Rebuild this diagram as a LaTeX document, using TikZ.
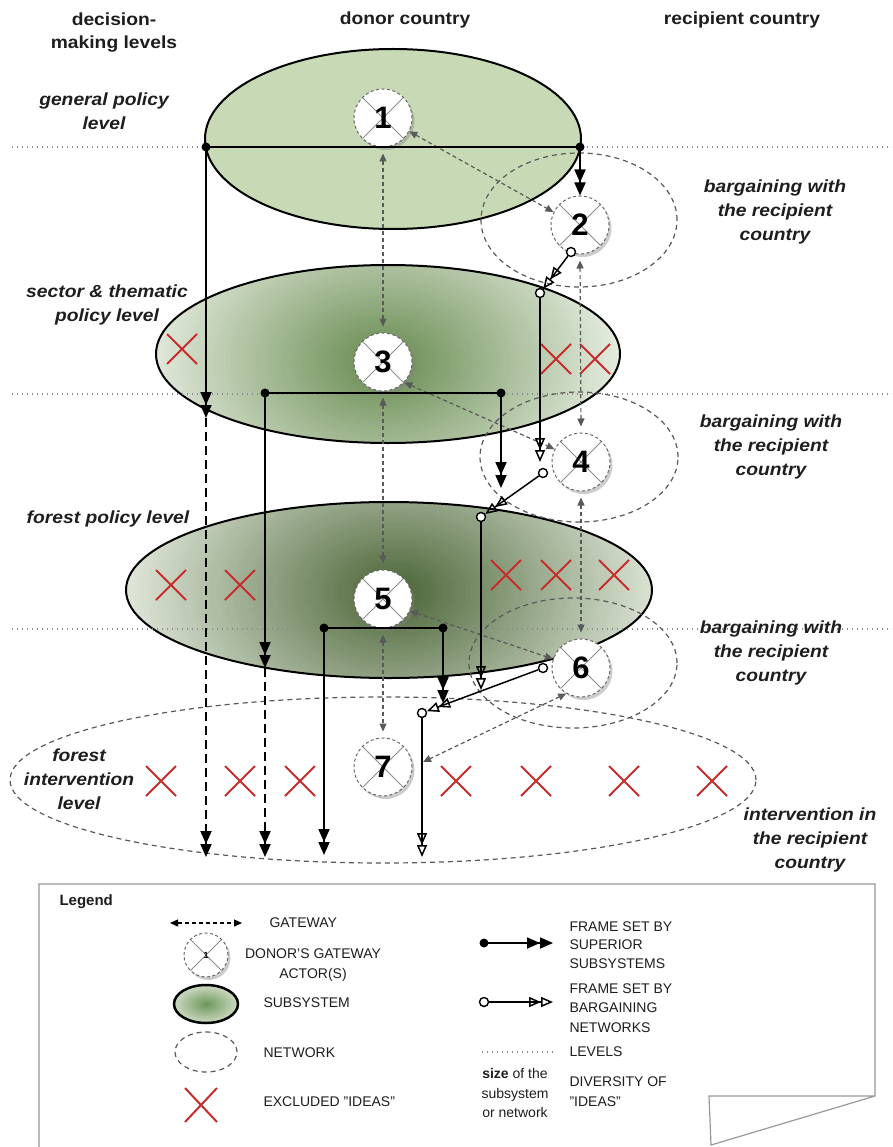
\documentclass[tikz,border=0pt]{standalone}
\usepackage{fontspec}
\setmainfont{Liberation Sans}
\newfontfamily\lblfont{Liberation Sans}[FakeStretch=1.1]
\usetikzlibrary{arrows.meta,shapes.geometric,shapes.misc,shadows}

\definecolor{subflat}{RGB}{199,218,181}
\definecolor{subAin}{RGB}{100,136,76}
\definecolor{subAout}{RGB}{238,243,233}
\definecolor{subBin}{RGB}{72,98,52}
\definecolor{subBout}{RGB}{232,238,226}
\definecolor{legin}{RGB}{110,150,90}
\definecolor{legout}{RGB}{205,218,195}
\definecolor{xred}{RGB}{200,45,45}
\definecolor{ink}{RGB}{30,30,30}

% elliptical colour gradient, relative to the node centre:
% offset x, offset y, x radius, y radius, inner, outer
\newcommand\radialfill[6]{%
  \fill[#6] (#1-#3,#2-#4) rectangle (#1+#3,#2+#4);
  \foreach \k in {60,59,...,1}{%
    \pgfmathtruncatemacro\p{100-100*\k/60}%
    \pgfmathsetmacro\rx{#3*(\k/60)}%
    \pgfmathsetmacro\ry{#4*(\k/60)}%
    \fill[#5!\p!#6] (#1,#2) ellipse [x radius=\rx, y radius=\ry];
  }%
}

\tikzset{
  hdr/.style={font=\lblfont\bfseries\fontsize{17.5}{23}\selectfont, text=ink, align=center},
  lvl/.style={font=\lblfont\bfseries\itshape\fontsize{17.5}{24}\selectfont, text=ink, align=center},
  leg/.style={font=\fontsize{14}{18.5}\selectfont, text=ink, align=left, anchor=west},
  sub/.style={ellipse, draw=black, line width=2pt, inner sep=0pt},
  netell/.style={ellipse, draw=black!65, line width=1.2pt, dash pattern=on 5pt off 4pt, inner sep=0pt},
  gw/.style={circle, minimum size=58pt, inner sep=0pt, fill=white, draw=black!60,
    dash pattern=on 3pt off 2.5pt, line width=1pt, text=black,
    font=\bfseries\fontsize{31}{31}\selectfont,
    drop shadow={opacity=0.4, shadow xshift=2.5pt, shadow yshift=-3pt},
    path picture={\draw[black!45, solid, line width=0.9pt]
      (path picture bounding box.north west) -- (path picture bounding box.south east)
      (path picture bounding box.north east) -- (path picture bounding box.south west);}},
  excl/.style={cross out, draw=xred, line width=2pt, minimum width=28pt, minimum height=28pt, inner sep=0pt},
  fdot/.style={circle, fill=black, inner sep=0pt, minimum size=9pt},
  odot/.style={circle, draw=black, fill=white, line width=1.4pt, inner sep=0pt, minimum size=9pt},
  sup/.style={line width=1.8pt, -{Triangle[length=13pt 0 0,width=11pt 0 0]Triangle[length=13pt 0 0,width=11pt 0 0]}},
  supdash/.style={sup, dash pattern=on 9pt off 5pt},
  barg/.style={line width=1.5pt, -{Triangle[open,length=12pt 0 0,width=10pt 0 0]Triangle[open,length=12pt 0 0,width=10pt 0 0]}},
  gate/.style={black!65, line width=1.2pt, dash pattern=on 4pt off 3pt,
    {Triangle[length=8pt 0 0,width=7pt 0 0]}-{Triangle[length=8pt 0 0,width=7pt 0 0]}},
  vgap/.style={shorten <=6pt, shorten >=6pt},
  lvline/.style={black!45, line width=1.4pt, dash pattern=on 1.4pt off 3.6pt},
  legframe/.style={draw=black!40, line width=1.2pt},
}

\begin{document}
\begin{tikzpicture}[x=1pt, y=-1pt]
\fill[white] (0,0) rectangle (892,1147);
\useasboundingbox (0,0) rectangle (892,1147);

% subsystems
\node[sub, fill=subflat, minimum width=376pt, minimum height=180pt] (sub1) at (393,139) {};
\node[sub, minimum width=464pt, minimum height=178pt,
  path picture={\radialfill{-5}{8}{255}{185}{subAin}{subAout}}] (sub2) at (388,354) {};
\node[sub, minimum width=526pt, minimum height=176pt,
  path picture={\radialfill{6}{2}{285}{200}{subBin}{subBout}}] (sub3) at (389,590) {};

% decision-making levels
\coordinate (lv1a) at (12,147);  \coordinate (lv1b) at (892,147);
\coordinate (lv2a) at (12,394);  \coordinate (lv2b) at (892,394);
\coordinate (lv3a) at (12,629);  \coordinate (lv3b) at (892,629);
\draw[lvline] (lv1a) -- (lv1b);
\draw[lvline] (lv2a) -- (lv2b);
\draw[lvline] (lv3a) -- (lv3b);

% bargaining networks
\node[netell, minimum width=196pt, minimum height=134pt] (net1) at (579,220) {};
\node[netell, minimum width=198pt, minimum height=130pt] (net2) at (579,457) {};
\node[netell, minimum width=208pt, minimum height=130pt] (net3) at (573,663) {};
\node[netell, minimum width=746pt, minimum height=166pt] (net4) at (383,780) {};

% excluded ideas
\node[excl] (xa1) at (182,349) {};
\node[excl] (xa2) at (556,359) {};
\node[excl] (xa3) at (595,359) {};
\node[excl] (xb1) at (171,585) {};
\node[excl] (xb2) at (240,585) {};
\node[excl] (xb3) at (506,575) {};
\node[excl] (xb4) at (556,575) {};
\node[excl] (xb5) at (614,575) {};
\node[excl] (xc1) at (161,781) {};
\node[excl] (xc2) at (240,781) {};
\node[excl] (xc3) at (300,781) {};
\node[excl] (xc4) at (456,781) {};
\node[excl] (xc5) at (536,781) {};
\node[excl] (xc6) at (624,781) {};
\node[excl] (xc7) at (712,781) {};

% gateway actors
\node[gw] (g1) at (383,118) {1};
\node[gw] (g2) at (580,225) {2};
\node[gw] (g3) at (383,362) {3};
\node[gw] (g4) at (581,462) {4};
\node[gw] (g5) at (383,599) {5};
\node[gw] (g6) at (581,668) {6};
\node[gw] (g7) at (383,767) {7};
\coordinate (g7r) at (423,762);

% gateways
\draw[gate] (g1.-27) -- (g2.154);
\draw[gate] (g3.-44) -- (g4.154);
\draw[gate] (g5.-24) -- (g6.162);
\draw[gate] (g6.-120) -- (g7r);
\draw[gate, vgap] (g1.south) -- (g3.north);
\draw[gate, vgap] (g3.south) -- (g5.north);
\draw[gate, vgap] (g5.south) -- (g7.north);
\draw[gate, vgap] (g2.south) -- (g4.north);
\draw[gate, vgap] (g4.south) -- (g6.north);

% frames set by superior subsystems
\node[fdot] (s1L) at (206,147) {};
\node[fdot] (s1R) at (580,147) {};
\node[fdot] (s2L) at (265,393) {};
\node[fdot] (s2R) at (501,393) {};
\node[fdot] (s3L) at (324,628) {};
\node[fdot] (s3R) at (443,628) {};
\coordinate (m1) at (206,418);  \coordinate (b1) at (206,857);
\coordinate (m2) at (265,668);  \coordinate (b2) at (265,857);
\coordinate (b3) at (324,855);
\coordinate (e2) at (501,488);
\coordinate (e3) at (443,703);

\draw[line width=1.8pt] (s1L.center) -- (s1R.center);
\draw[line width=1.8pt] (s2L.center) -- (s2R.center);
\draw[line width=1.8pt] (s3L.center) -- (s3R.center);
\draw[sup] (s1R.center) -- (g2.north);
\draw[sup] (s1L.center) -- (m1);
\draw[supdash] (m1) -- (b1);
\draw[sup] (s2L.center) -- (m2);
\draw[supdash] (m2) -- (b2);
\draw[sup] (s2R.center) -- (e2);
\draw[sup] (s3L.center) -- (b3);
\draw[sup] (s3R.center) -- (e3);

% frames set by bargaining networks
\node[odot] (o2a) at (571,252) {};
\node[odot] (o2c) at (540,293) {};
\node[odot] (o4a) at (543,473) {};
\node[odot] (o4c) at (481,517) {};
\node[odot] (o6a) at (543,668) {};
\node[odot] (o6c) at (422,713) {};
\coordinate (e4) at (540,462);
\coordinate (e5) at (481,690);
\coordinate (b4) at (422,857);
\draw[barg] (o2a) -- (o2c);
\draw[barg] (o2c) -- (e4);
\draw[barg] (o4a) -- (o4c);
\draw[barg] (o4c) -- (e5);
\draw[barg] (o6a) -- (o6c);
\draw[barg] (o6c) -- (b4);

% headings and level names
\node[hdr] (hdec) at (114,33) {decision-\\making levels};
\node[hdr] (hdon) at (405,20) {donor country};
\node[hdr] (hrec) at (742,20) {recipient country};
\node[lvl] (lvA) at (104,111) {general policy\\level};
\node[lvl] (lvB) at (107,305) {sector \& thematic\\policy level};
\node[lvl] (lvC) at (108,519) {forest policy level};
\node[lvl] (lvD) at (79,779) {forest\\intervention\\level};
\node[lvl] (bg1) at (775,212) {bargaining with\\the recipient\\country};
\node[lvl] (bg2) at (771,447) {bargaining with\\the recipient\\country};
\node[lvl] (bg3) at (771,653) {bargaining with\\the recipient\\country};
\node[lvl] (intv) at (810,840) {intervention in\\the recipient\\country};

% legend sheet with folded corner
\coordinate (lb1) at (39,1147);
\coordinate (lb2) at (39,884);
\coordinate (lb3) at (875,884);
\coordinate (lb4) at (875,1096);
\coordinate (lf1) at (709,1096);
\coordinate (lf2) at (711,1145);
\draw[legframe] (lb1) -- (lb2) -- (lb3) -- (lb4) -- (lf2) -- (lf1) -- (lb4);

\node[font=\bfseries\fontsize{15}{15}\selectfont, text=ink, anchor=west] (legt) at (56,902) {Legend};

\coordinate (lg1) at (170,923);
\coordinate (lg2) at (242,923);
\draw[gate, black] (lg1) -- (lg2);
\node[leg] (tg1) at (266,923) {GATEWAY};

\node[gw, minimum size=44pt, font=\bfseries\fontsize{9}{9}\selectfont] (lga) at (206,955) {1};
\node[leg, anchor=center, align=center, font=\fontsize{14}{20}\selectfont] (tg2) at (313,965) {DONOR'S GATEWAY\\ACTOR(S)};

\node[ellipse, draw=black, line width=2.5pt, minimum width=64pt, minimum height=38pt,
  inner sep=0pt, inner color=legin, outer color=legout] (lsub) at (206,1004) {};
\node[leg] (tg3) at (260,1003) {SUBSYSTEM};

\node[netell, minimum width=62pt, minimum height=40pt] (lnet) at (206,1052) {};
\node[leg] (tg4) at (260,1053) {NETWORK};

\node[excl, minimum width=30pt, minimum height=32pt] (lx) at (201,1105) {};
\node[leg] (tg5) at (260,1102) {EXCLUDED "IDEAS"};

\node[fdot] (lsd) at (484,943) {};
\coordinate (lse) at (553,943);
\draw[sup] (lsd.center) -- (lse);
\node[leg] (tg6) at (566,945) {FRAME SET BY\\SUPERIOR\\SUBSYSTEMS};

\node[odot] (lod) at (484,1002) {};
\coordinate (loe) at (553,1002);
\draw[barg] (lod) -- (loe);
\node[leg, font=\fontsize{14}{19.5}\selectfont] (tg7) at (566,1008) {FRAME SET BY\\BARGAINING\\NETWORKS};

\coordinate (ll1) at (482,1052);
\coordinate (ll2) at (554,1052);
\draw[lvline] (ll1) -- (ll2);
\node[leg] (tg8) at (566,1052) {LEVELS};

\node[leg, anchor=center, align=center, font=\fontsize{14}{19.5}\selectfont] (tg9) at (515,1093) {\textbf{size} of the\\subsystem\\or network};
\node[leg, font=\fontsize{14}{20}\selectfont] (tg10) at (566,1092) {DIVERSITY OF\\"IDEAS"};
\end{tikzpicture}
\end{document}
